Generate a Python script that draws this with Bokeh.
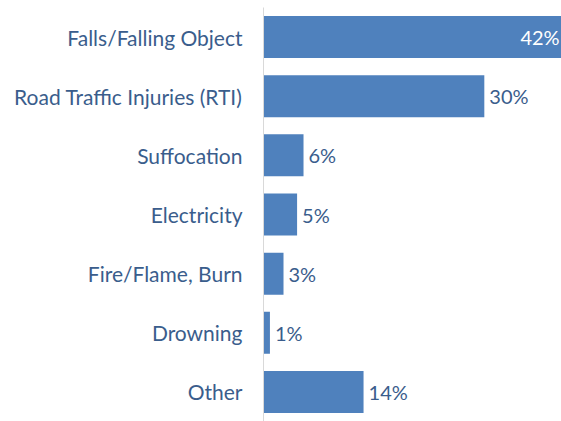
from bokeh.plotting import figure
from bokeh.models import FactorRange, Range1d, ColumnDataSource
from bokeh.core.properties import value
from bokeh.embed import file_html
from bokeh.resources import INLINE

categories = ["Falls/Falling Object", "Road Traffic Injuries (RTI)", "Suffocation",
              "Electricity", "Fire/Flame, Burn", "Drowning", "Other"]
shares = [42.0, 30.9, 5.6, 4.7, 2.8, 0.9, 14.0]
share_labels = ["42%", "30%", "6%", "5%", "3%", "1%", "14%"]

FONT = "Lato"
TEXT_COLOR = "#3A5D8C"
BAR_COLOR = "#4F81BD"
X_END = 41.7

p = figure(width=561, height=421,
           y_range=FactorRange(factors=categories[::-1]),
           x_range=Range1d(0, X_END),
           output_backend="svg", toolbar_location=None,
           min_border_left=263, min_border_right=0,
           min_border_top=7, min_border_bottom=0)

src = ColumnDataSource(dict(cat=categories, val=shares, lab=share_labels))
p.hbar(y="cat", right="val", left=0, height=0.71, source=src,
       fill_color=BAR_COLOR, line_color=None)

inside = [i for i, v in enumerate(shares) if v > X_END * 0.9]
outside = [i for i, v in enumerate(shares) if v <= X_END * 0.9]

src_out = ColumnDataSource(dict(cat=[categories[i] for i in outside],
                                val=[shares[i] for i in outside],
                                lab=[share_labels[i] for i in outside]))
src_in = ColumnDataSource(dict(cat=[categories[i] for i in inside],
                               val=[shares[i] for i in inside],
                               lab=[share_labels[i] for i in inside]))

p.text(x="val", y="cat", text="lab", source=src_out, x_offset=5,
       text_baseline="middle", text_align="left",
       text_font=value(FONT), text_font_size="20px", text_color=TEXT_COLOR)
p.text(x="val", y="cat", text="lab", source=src_in, x_offset=-4,
       text_baseline="middle", text_align="right",
       text_font=value(FONT), text_font_size="20px", text_color="white")

p.xaxis.visible = False
p.xgrid.visible = False
p.ygrid.visible = False
p.outline_line_color = None

ax = p.yaxis[0]
ax.axis_line_color = "#D9D9D9"
ax.axis_line_width = 1
ax.major_tick_line_color = None
ax.minor_tick_line_color = None
ax.major_tick_out = 0
ax.major_label_standoff = 21
ax.major_label_text_font = FONT
ax.major_label_text_font_size = "21px"
ax.major_label_text_color = TEXT_COLOR

open("out.html", "w").write(file_html(p, INLINE))
